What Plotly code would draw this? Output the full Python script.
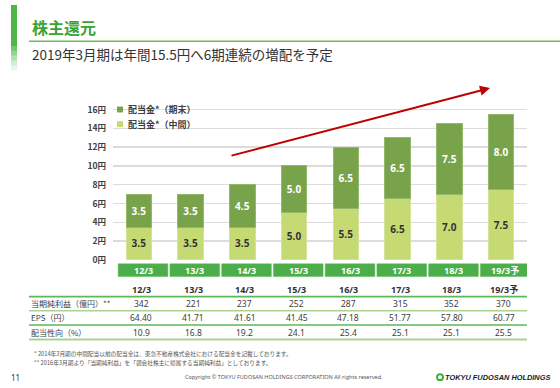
import plotly.graph_objects as go

W, H = 560, 388

# ---------------- data ----------------
years = ["12/3", "13/3", "14/3", "15/3", "16/3", "17/3", "18/3", "19/3予"]
div_interim = [3.5, 3.5, 3.5, 5.0, 5.5, 6.5, 7.0, 7.5]
div_yearend = [3.5, 3.5, 4.5, 5.0, 6.5, 6.5, 7.5, 8.0]
net_income = [342, 221, 237, 252, 287, 315, 352, 370]
eps = [64.40, 41.71, 41.61, 41.45, 47.18, 51.77, 57.80, 60.77]
payout = [10.9, 16.8, 19.2, 24.1, 25.4, 25.1, 25.1, 25.5]
y_ticks = [0, 2, 4, 6, 8, 10, 12, 14, 16]
y_tick_labels = [f"{v}円" for v in y_ticks]
legend_labels = ["配当金*（期末）", "配当金*（中間）"]
row_labels = ["当期純利益（億円）**", "EPS（円）", "配当性向（%）"]
title_text = "株主還元"
subtitle_text = "2019年3月期は年間15.5円へ6期連続の増配を予定"
footnotes = [
    "* 2014年3月期の中間配当以前の配当金は、東急不動産株式会社における配当金を記載しております。",
    "** 2016年3月期より「当期純利益」を「親会社株主に帰属する当期純利益」としております。",
]
page_no = "11"
copyright_text = "Copyright © TOKYU FUDOSAN HOLDINGS CORPORATION All rights reserved."
logo_text = "TOKYU FUDOSAN HOLDINGS"

# ---------------- styles ----------------
DARK = "#78a34b"
LIGHT = "#c6da74"
BOX = "#4cae4a"
TITLE_G = "#3aa335"
TXT = "#404040"
FONT = "Noto Sans, Noto Sans CJK JP, sans-serif"
JP = "Noto Sans CJK JP, Noto Sans, sans-serif"


def px(x):
    return x / W


def py(y):
    return 1 - y / H


UNIT = 9.625          # px per yen
Y0 = 261              # pixel row of 0 yen
YMIN, YMAX = -0.1, 16.2

fig = go.Figure()
fig.add_trace(go.Bar(
    x=years, y=div_interim, name=legend_labels[1], marker_color=LIGHT,
    marker_line=dict(color="#d4e39a", width=1),
    texttemplate="%{y:.1f}", textposition="inside", insidetextanchor="middle",
    textangle=0, constraintext="none",
    textfont=dict(family=FONT, size=10, color="#333333", weight="bold"),
    showlegend=False, hoverinfo="skip"))
fig.add_trace(go.Bar(
    x=years, y=div_yearend, name=legend_labels[0], marker_color=DARK,
    marker_line=dict(color="#93ba6a", width=1),
    texttemplate="%{y:.1f}", textposition="inside", insidetextanchor="middle",
    textangle=0, constraintext="none",
    textfont=dict(family=FONT, size=10, color="white", weight="bold"),
    showlegend=False, hoverinfo="skip"))

shapes = []
ann = []

# left decorative bar (fading)
shapes.append(dict(type="rect", xref="paper", yref="paper", x0=px(11), x1=px(17),
                   y0=py(42), y1=py(0), fillcolor="#4db848", line_width=0, layer="below"))
for k, op in enumerate([0.8, 0.6, 0.42, 0.26, 0.12]):
    shapes.append(dict(type="rect", xref="paper", yref="paper", x0=px(11), x1=px(17),
                       y0=py(42 + 5 * (k + 1)), y1=py(42 + 5 * k), fillcolor="#4db848",
                       opacity=op, line_width=0, layer="below"))

# title & underline
ann.append(dict(xref="paper", yref="paper", x=px(30), y=py(23), xanchor="left", yanchor="middle",
                text=f"<b>{title_text}</b>", showarrow=False,
                font=dict(family=JP, size=16, color=TITLE_G)))
shapes.append(dict(type="line", xref="paper", yref="paper", x0=px(29), x1=1, y0=py(37), y1=py(37),
                   line=dict(color="#6cbb52", width=1.5)))
ann.append(dict(xref="paper", yref="paper", x=px(30), y=py(50), xanchor="left", yanchor="middle",
                text=subtitle_text, showarrow=False,
                font=dict(family=JP, size=13.5, color="#333333")))

# legend (custom small squares)
for k, (lab, col) in enumerate(zip(legend_labels, [DARK, LIGHT])):
    yc = 107 + k * 15
    shapes.append(dict(type="rect", xref="paper", yref="paper", x0=px(117), x1=px(123),
                       y0=py(yc + 3), y1=py(yc - 3), fillcolor=col, line_width=0))
    ann.append(dict(xref="paper", yref="paper", x=px(126), y=py(yc), xanchor="left",
                    yanchor="middle", text=f"<b>{lab}</b>", showarrow=False,
                    font=dict(family=JP, size=9, color=TXT)))

# trend arrow
ann.append(dict(xref="paper", yref="paper", x=px(490), y=py(85), ax=230 - 490, ay=153 - 85,
                axref="pixel", ayref="pixel", text="", showarrow=True, arrowhead=2,
                arrowsize=1, arrowwidth=2, arrowcolor="#c00000"))

# category boxes
for i, yr in enumerate(years):
    shapes.append(dict(type="rect", xref="x", yref="paper", x0=i - 0.4, x1=i + 0.56,
                       y0=py(278), y1=py(265), fillcolor=BOX, line=dict(color="#5cb85a", width=0.5)))
    ann.append(dict(xref="x", yref="paper", x=i + 0.08, y=py(271.5), text=f"<b>{yr}</b>",
                    showarrow=False, xanchor="center", yanchor="middle",
                    font=dict(family=FONT, size=9, color="white")))

# table
row_y = [306, 320, 335]
for i, yr in enumerate(years):
    ann.append(dict(xref="x", yref="paper", x=i + 0.05, y=py(291.5), text=f"<b>{yr}</b>",
                    showarrow=False, xanchor="center", yanchor="middle",
                    font=dict(family=FONT, size=9, color="#333333")))
    vals = [f"{net_income[i]}", f"{eps[i]:.2f}", f"{payout[i]:.1f}"]
    for v, yy in zip(vals, row_y):
        ann.append(dict(xref="x", yref="paper", x=i + 0.05, y=py(yy), text=v,
                        showarrow=False, xanchor="center", yanchor="middle",
                        font=dict(family=FONT, size=8.5, color=TXT)))
for lab, yy in zip(row_labels, row_y):
    ann.append(dict(xref="paper", yref="paper", x=px(29), y=py(yy), text=lab, showarrow=False,
                    xanchor="left", yanchor="middle", font=dict(family=JP, size=8, color=TXT)))
for yy, col, wd in [(298.5, "#5cb85a", 1.8), (313, "#a9d48f", 1.5),
                    (327.5, "#5cb85a", 1.5), (342.5, "#a9d48f", 2)]:
    shapes.append(dict(type="line", xref="paper", yref="paper", x0=px(29), x1=px(527),
                       y0=py(yy), y1=py(yy), line=dict(color=col, width=wd)))

# footnotes
for k, fn in enumerate(footnotes):
    ann.append(dict(xref="paper", yref="paper", x=px(32), y=py(357 + 9 * k), text=fn,
                    showarrow=False, xanchor="left", yanchor="middle",
                    font=dict(family=JP, size=5.7, color="#555555")))

# bottom bar
ann.append(dict(xref="paper", yref="paper", x=px(9), y=py(381), text=page_no, showarrow=False,
                xanchor="left", yanchor="middle", font=dict(family=FONT, size=8, color="#333333")))
ann.append(dict(xref="paper", yref="paper", x=px(284), y=py(381), text=copyright_text,
                showarrow=False, xanchor="center", yanchor="middle",
                font=dict(family=FONT, size=5.5, color="#555555")))
ann.append(dict(xref="paper", yref="paper", x=px(552), y=py(381),
                text=f"<b><i>{logo_text}</i></b>", showarrow=False, xanchor="right",
                yanchor="middle", font=dict(family="Liberation Sans, Arial", size=7.4, color="#1a1a1a")))
shapes.append(dict(type="circle", xref="paper", yref="paper", x0=px(437), x1=px(443),
                   y0=py(384), y1=py(378), fillcolor="white", line=dict(color="#3fae3a", width=2)))

fig.update_layout(
    width=W, height=H, margin=dict(l=0, r=0, t=0, b=0),
    paper_bgcolor="white", plot_bgcolor="white",
    barmode="stack", bargap=0.51,
    xaxis=dict(domain=[px(113), px(527)], range=[-0.5, 7.5], showticklabels=False,
               showgrid=False, zeroline=False, showline=False, fixedrange=True),
    yaxis=dict(domain=[py(Y0 - YMIN * UNIT), py(Y0 - YMAX * UNIT)], range=[YMIN, YMAX],
               tickvals=y_ticks, ticktext=[f"<b>{t}</b>" for t in y_tick_labels],
               tickfont=dict(family=JP, size=8.5, color=TXT), ticks="", ticklabelstandoff=6,
               showgrid=True, gridcolor="#dcdcdc", gridwidth=1.5, zeroline=False,
               showline=False, fixedrange=True),
    shapes=shapes, annotations=ann, showlegend=False,
)

fig.write_html(
    "out.html",
    config={"displayModeBar": False, "staticPlot": True},
    post_script="document.body.style.margin='0';document.body.style.overflow='hidden';",
)
